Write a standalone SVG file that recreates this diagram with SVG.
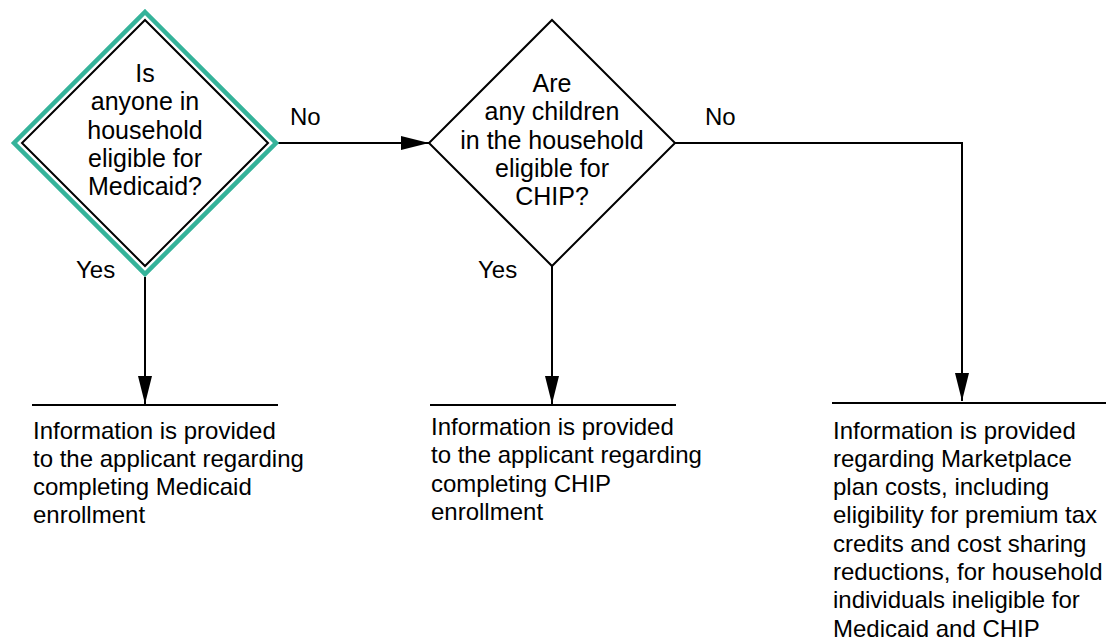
<svg xmlns="http://www.w3.org/2000/svg" width="1106" height="643" viewBox="0 0 1106 643">
<style>
text{font-family:"Liberation Sans",Arial,sans-serif;font-size:24px;fill:#000}
.c{text-anchor:middle;font-size:25px}
.ln{stroke:#000;stroke-width:2;fill:none}
.dm{stroke:#000;stroke-width:2;fill:#fff}
</style>
<defs>
<marker id="ah" markerUnits="userSpaceOnUse" markerWidth="28" markerHeight="14" refX="28" refY="7" orient="auto">
<path d="M0,0 L28,7 L0,14 z" fill="#000"/>
</marker>
</defs>
<rect width="1106" height="643" fill="#fff"/>
<g id="connectors">
<line class="ln" x1="276" y1="143" x2="429" y2="143" marker-end="url(#ah)"/>
<line class="ln" x1="145" y1="277" x2="145" y2="404" marker-end="url(#ah)"/>
<line class="ln" x1="552" y1="266" x2="552" y2="404" marker-end="url(#ah)"/>
<polyline class="ln" points="675,143 962,143 962,401" marker-end="url(#ah)"/>
<text x="290" y="125">No</text>
<text x="705" y="125">No</text>
<text x="76" y="278">Yes</text>
<text x="478" y="278">Yes</text>
</g>
<g id="d1">
<polygon points="145,12 276,143 145,274 14,143" fill="none" stroke="#35b39a" stroke-width="4.5"/>
<polygon class="dm" points="145,20 268,143 145,266 22,143"/>
<text class="c" x="145" y="82">Is</text>
<text class="c" x="145" y="110.3">anyone in</text>
<text class="c" x="145" y="138.6">household</text>
<text class="c" x="145" y="166.9">eligible for</text>
<text class="c" x="145" y="195.2">Medicaid?</text>
</g>
<g id="d2">
<polygon class="dm" points="552,20 675,143 552,266 429,143"/>
<text class="c" x="552" y="92">Are</text>
<text class="c" x="552" y="120.3">any children</text>
<text class="c" x="552" y="148.6">in the household</text>
<text class="c" x="552" y="176.9">eligible for</text>
<text class="c" x="552" y="205.2">CHIP?</text>
</g>
<g id="r1">
<line class="ln" x1="32" y1="405" x2="278" y2="405"/>
<text x="33" y="438.5">Information is provided</text>
<text x="33" y="466.8">to the applicant regarding</text>
<text x="33" y="495.1">completing Medicaid</text>
<text x="33" y="523.4">enrollment</text>
</g>
<g id="r2">
<line class="ln" x1="430" y1="405" x2="676" y2="405"/>
<text x="431" y="435">Information is provided</text>
<text x="431" y="463.3">to the applicant regarding</text>
<text x="431" y="491.6">completing CHIP</text>
<text x="431" y="519.9">enrollment</text>
</g>
<g id="r3">
<line class="ln" x1="832" y1="403" x2="1106" y2="403"/>
<text x="833" y="438.5">Information is provided</text>
<text x="833" y="466.8">regarding Marketplace</text>
<text x="833" y="495.1">plan costs, including</text>
<text x="833" y="523.4">eligibility for premium tax</text>
<text x="833" y="551.7">credits and cost sharing</text>
<text x="833" y="580">reductions, for household</text>
<text x="833" y="608.3">individuals ineligible for</text>
<text x="833" y="636.6">Medicaid and CHIP</text>
</g>
</svg>
